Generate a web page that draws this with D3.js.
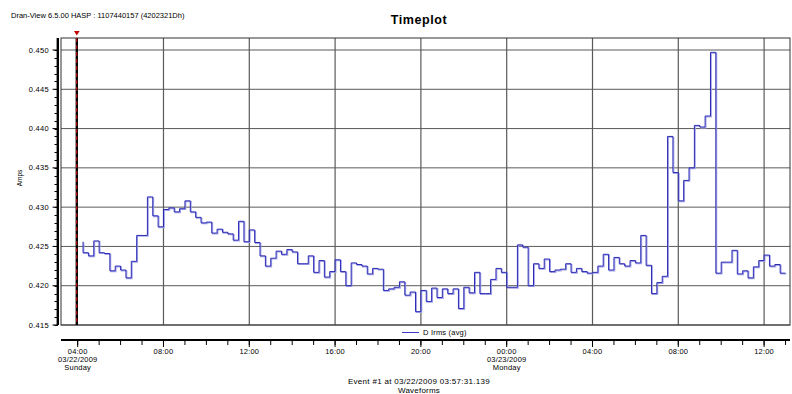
<!DOCTYPE html>
<html>
<head>
<meta charset="utf-8">
<script src="https://cdn.jsdelivr.net/npm/d3@7"></script>
<style>
  body { margin: 0; background: #fff; }
  text { font-family: "Liberation Sans", Arial, sans-serif; fill: #000; }
</style>
</head>
<body>
<svg id="chart" width="792" height="394"></svg>
<script>
// texts
const headerText = 'Dran-View 6.5.00 HASP : 1107440157 (4202321Dh)';
const chartTitle = 'Timeplot';
const yLabel = 'Amps';
const seriesName = 'D Irms (avg)';
const eventText = 'Event #1 at 03/22/2009 03:57:31.139';
const footerText = 'Waveforms';

// time axis
const viewStart = '2009-03-22T03:13:20';
const viewEnd = '2009-03-23T13:12:27';
const eventTime = '2009-03-22T03:57:31';
const firstSample = '2009-03-22T04:15:00';
const sampleMinutes = 15;
const dayNames = { '03/22/2009': 'Sunday', '03/23/2009': 'Monday' };

// value axis
const yTicks = [0.415, 0.420, 0.425, 0.430, 0.435, 0.440, 0.445, 0.450];

// D Irms (avg), one value per 15 minutes
const irmsAvg = [
  0.4256, 0.4242, 0.4238, 0.4257, 0.4242, 0.4241, 0.4219, 0.4225, 0.4220, 0.4210, // 04:15 ..
  0.4231, 0.4264, 0.4264, 0.4313, 0.4289, 0.4275, 0.4297, 0.4299, 0.4294, 0.4298, // 06:45 ..
  0.4308, 0.4294, 0.4287, 0.4280, 0.4281, 0.4267, 0.4272, 0.4268, 0.4266, 0.4258, // 09:15 ..
  0.4282, 0.4256, 0.4271, 0.4255, 0.4238, 0.4225, 0.4235, 0.4244, 0.4240, 0.4246, // 11:45 ..
  0.4243, 0.4228, 0.4228, 0.4238, 0.4217, 0.4232, 0.4211, 0.4218, 0.4233, 0.4218, // 14:15 ..
  0.4200, 0.4229, 0.4227, 0.4225, 0.4215, 0.4222, 0.4221, 0.4194, 0.4196, 0.4198, // 16:45 ..
  0.4205, 0.4188, 0.4192, 0.4167, 0.4194, 0.4180, 0.4197, 0.4185, 0.4196, 0.4190, // 19:15 ..
  0.4196, 0.4171, 0.4198, 0.4191, 0.4217, 0.4190, 0.4190, 0.4208, 0.4222,         // 21:45 ..
  0.4217, 0.4198, 0.4198, 0.4252, 0.4249, 0.4200, 0.4228, 0.4222, 0.4234, 0.4218, // 00:00 mon
  0.4220, 0.4221, 0.4228, 0.4217, 0.4222, 0.4218, 0.4216, 0.4217, 0.4225, 0.4240, // 02:30 ..
  0.4220, 0.4236, 0.4228, 0.4225, 0.4232, 0.4229, 0.4264, 0.4226, 0.4190, 0.4204, // 05:00 ..
  0.4212, 0.4390, 0.4344, 0.4308, 0.4334, 0.4350, 0.4404, 0.4402, 0.4416, 0.4497, // 07:30 ..
  0.4216, 0.4230, 0.4230, 0.4245, 0.4215, 0.4219, 0.4210, 0.4224, 0.4232, 0.4239, // 10:00 ..
  0.4225, 0.4227, 0.4216                                                          // 12:30 ..
];

const plotLeft = 61, plotRight = 790, plotTop = 38, plotBottom = 325;
const fontSize = 7.5;

const parseTime = d3.timeParse('%Y-%m-%dT%H:%M:%S');
const fmtTime = d3.timeFormat('%H:%M');
const fmtDate = d3.timeFormat('%m/%d/%Y');

const t0 = parseTime(firstSample);
const samples = irmsAvg.map((v, i) => ({ t: d3.timeMinute.offset(t0, i * sampleMinutes), v: v }));

const svg = d3.select('#chart');

const x = d3.scaleTime()
  .domain([parseTime(viewStart), parseTime(viewEnd)])
  .range([plotLeft, plotRight]);
const y = d3.scaleLinear()
  .domain([0.415, 0.450])
  .range([plotBottom, 50]);

const majorTicks = x.ticks(d3.timeHour.every(4));
const minorTicks = x.ticks(d3.timeHour.every(1));

// header + title
svg.append('text')
  .attr('x', 11).attr('y', 17.5)
  .style('font-size', fontSize + 'px')
  .text(headerText);

svg.append('text')
  .attr('x', 419).attr('y', 24)
  .attr('text-anchor', 'middle')
  .style('font-size', '12.5px')
  .style('font-weight', 'bold')
  .style('letter-spacing', '0.6px')
  .text(chartTitle);

// grid
const grid = svg.append('g');
grid.selectAll('.hgrid')
  .data(yTicks)
  .enter()
  .append('line')
  .attr('class', 'hgrid')
  .attr('x1', plotLeft).attr('x2', plotRight)
  .attr('y1', d => y(d)).attr('y2', d => y(d))
  .style('stroke', '#5a5a5a')
  .style('stroke-width', 1);

grid.selectAll('.vgrid')
  .data(majorTicks.filter(d => x(d) > 100))
  .enter()
  .append('line')
  .attr('class', 'vgrid')
  .attr('x1', d => x(d)).attr('x2', d => x(d))
  .attr('y1', plotTop).attr('y2', plotBottom)
  .style('stroke', '#5a5a5a')
  .style('stroke-width', 1.2);

// frame
svg.append('rect')
  .attr('x', plotLeft).attr('y', plotTop)
  .attr('width', plotRight - plotLeft).attr('height', plotBottom - plotTop)
  .style('fill', 'none')
  .style('stroke', '#333')
  .style('stroke-width', 1);

// series (step, value holds for the interval ending at its time)
const line = d3.line()
  .x(d => x(d.t))
  .y(d => y(d.v))
  .curve(d3.curveStepBefore);

svg.append('path')
  .datum(samples)
  .attr('d', line)
  .attr('transform', 'translate(0.8,0.8)')
  .style('fill', 'none')
  .style('stroke', '#a4a4e8')
  .style('stroke-width', 1.2);

svg.append('path')
  .datum(samples)
  .attr('d', line)
  .style('fill', 'none')
  .style('stroke', '#2a2ab4')
  .style('stroke-width', 1);

// event marker
const ex = x(parseTime(eventTime));
svg.append('line')
  .attr('x1', ex).attr('x2', ex).attr('y1', plotTop).attr('y2', plotBottom)
  .style('stroke', '#000').style('stroke-width', 2.4);
svg.append('line')
  .attr('x1', ex).attr('x2', ex).attr('y1', plotTop).attr('y2', plotBottom)
  .style('stroke', '#e01010').style('stroke-width', 1)
  .style('stroke-dasharray', '4,3');
svg.append('path')
  .attr('d', `M ${ex - 2.8} 31 L ${ex + 2.8} 31 L ${ex} 35.5 Z`)
  .style('fill', '#c00000');

// y axis
const yAxisX = 57.8;
svg.append('line')
  .attr('x1', yAxisX).attr('x2', yAxisX).attr('y1', plotTop).attr('y2', plotBottom)
  .style('stroke', '#000').style('stroke-width', 2.4);

const minorY = d3.range(0, 36).map(i => 0.415 + i * 0.001);
svg.selectAll('.yminor')
  .data(minorY)
  .enter()
  .append('line')
  .attr('class', 'yminor')
  .attr('x1', 54.5).attr('x2', yAxisX)
  .attr('y1', d => Math.round(y(d)) + 0.5).attr('y2', d => Math.round(y(d)) + 0.5)
  .style('stroke', '#000').style('stroke-width', 1);

svg.selectAll('.ymajor')
  .data(yTicks)
  .enter()
  .append('line')
  .attr('class', 'ymajor')
  .attr('x1', 52.5).attr('x2', yAxisX)
  .attr('y1', d => y(d)).attr('y2', d => y(d))
  .style('stroke', '#000').style('stroke-width', 1);

svg.selectAll('.ylabel')
  .data(yTicks)
  .enter()
  .append('text')
  .attr('class', 'ylabel')
  .attr('x', 49).attr('y', d => y(d))
  .attr('dy', '0.35em')
  .attr('text-anchor', 'end')
  .style('font-size', fontSize + 'px')
  .style('letter-spacing', '0.3px')
  .text(d3.format('.3f'));

svg.append('text')
  .attr('transform', 'translate(22,178) rotate(-90)')
  .attr('text-anchor', 'middle')
  .style('font-size', '6.5px')
  .text(yLabel);

// legend
svg.append('line')
  .attr('x1', 402).attr('x2', 419).attr('y1', 332.5).attr('y2', 332.5)
  .style('stroke', '#3a3ac0').style('stroke-width', 1);
svg.append('text')
  .attr('x', 423).attr('y', 335)
  .style('font-size', fontSize + 'px')
  .style('letter-spacing', '0.2px')
  .text(seriesName);

// x axis
const xAxisY = 340;
svg.append('line')
  .attr('x1', plotLeft).attr('x2', plotRight).attr('y1', xAxisY).attr('y2', xAxisY)
  .style('stroke', '#000').style('stroke-width', 2.2);

svg.selectAll('.xminor')
  .data(minorTicks)
  .enter()
  .append('line')
  .attr('class', 'xminor')
  .attr('x1', d => x(d)).attr('x2', d => x(d))
  .attr('y1', xAxisY).attr('y2', xAxisY + 5)
  .style('stroke', '#000').style('stroke-width', 1);

svg.selectAll('.xmajor')
  .data(majorTicks)
  .enter()
  .append('line')
  .attr('class', 'xmajor')
  .attr('x1', d => x(d)).attr('x2', d => x(d))
  .attr('y1', xAxisY).attr('y2', xAxisY + 7)
  .style('stroke', '#000').style('stroke-width', 1);

const xLabels = svg.selectAll('.xlabel')
  .data(majorTicks)
  .enter()
  .append('text')
  .attr('class', 'xlabel')
  .attr('text-anchor', 'middle')
  .style('font-size', fontSize + 'px')
  .style('letter-spacing', '0.2px');

xLabels.append('tspan')
  .attr('x', d => x(d)).attr('y', 354)
  .text(fmtTime);

// date + weekday under the first tick and under midnight
const showDate = (d, i) => i === 0 || (d.getHours() === 0 && d.getMinutes() === 0);
xLabels.filter(showDate).append('tspan')
  .attr('x', d => x(d)).attr('y', 362)
  .text(fmtDate);
xLabels.filter(showDate).append('tspan')
  .attr('x', d => x(d)).attr('y', 370)
  .text(d => dayNames[fmtDate(d)]);

// footer
svg.append('text')
  .attr('x', 419).attr('y', 384)
  .attr('text-anchor', 'middle')
  .style('font-size', '8px')
  .style('letter-spacing', '0.3px')
  .text(eventText);
svg.append('text')
  .attr('x', 419).attr('y', 393)
  .attr('text-anchor', 'middle')
  .style('font-size', '8px')
  .style('letter-spacing', '0.2px')
  .text(footerText);
</script>
</body>
</html>
